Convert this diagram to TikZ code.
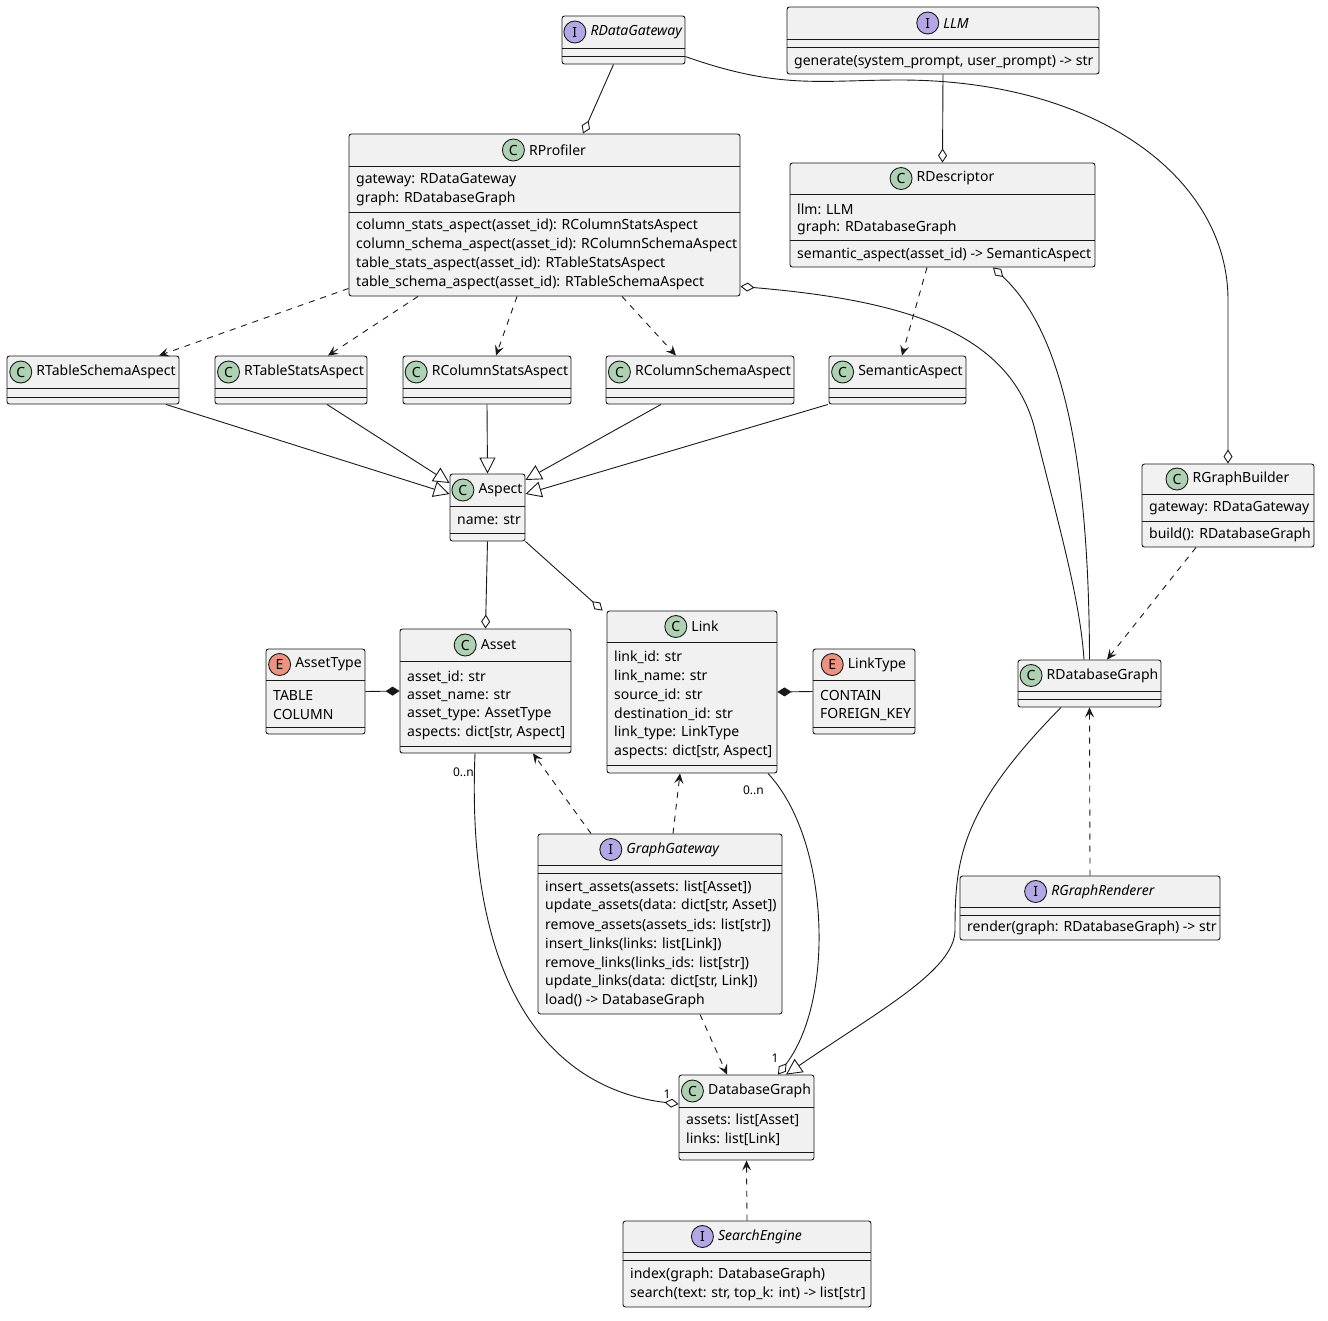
\documentclass[tikz,border=0pt]{standalone}
\usepackage{fontspec}
\setmainfont{Noto Sans}
\usetikzlibrary{arrows.meta,positioning}

\definecolor{boxfill}{HTML}{F1F1F1}
\definecolor{boxline}{HTML}{181818}
\definecolor{clsbadge}{HTML}{ADD1B2}
\definecolor{ifcbadge}{HTML}{B4A7E5}
\definecolor{enumbadge}{HTML}{EB937F}

% one class box: name, x1, y1, x2, y2, header bottom, letter, badge colour, title
\newcommand\umlclass[9]{%
  \pgfmathsetmacro\cw{#4-#2}\pgfmathsetmacro\ch{#5-#3}%
  \node[cls, minimum width=\cw pt, minimum height=\ch pt] (#1) at ({(#2+#4)/2},{(#3+#5)/2}) {};
  \draw[sepline] (#2,#6) -- (#4,#6);
  \node[title] (#1-t) at ({(#2+#4)/2+13},{(#3+#6)/2}) {#9};
  \node[badge, fill=#8, left=4pt of #1-t] {#7};
}
\newcommand\umlsep[3]{\draw[sepline] (#1,#3) -- (#2,#3);}
\newcommand\umlline[3]{\node[txt] at (#1+7,#2) {#3};}

\begin{document}
\begin{tikzpicture}[x=1pt, y=-1pt,
    cls/.style = {draw=boxline, fill=boxfill, rounded corners=2.5pt, inner sep=0pt, line width=0.9pt},
    sepline/.style = {draw=boxline, line width=0.8pt},
    title/.style = {inner sep=0pt, font=\fontsize{14}{16}\selectfont},
    txt/.style = {anchor=west, inner sep=0pt, font=\fontsize{14}{16}\selectfont},
    badge/.style = {circle, draw=boxline, line width=0.9pt, minimum size=22pt, inner sep=0pt, font=\fontsize{14}{16}\selectfont\bfseries},
    mult/.style = {inner sep=0pt, font=\fontsize{12}{14}\selectfont},
    link/.style = {draw=boxline, line width=0.9pt},
    dep/.style = {link, dashed, dash pattern=on 6pt off 6pt, -{Stealth[length=10pt,width=9pt,inset=4pt]}},
    aggr/.style = {link, -{Diamond[open,fill=white,length=14pt,width=9pt]}},
    aggrstart/.style = {link, {Diamond[open,fill=white,length=14pt,width=9pt]}-},
    comp/.style = {link, -{Diamond[length=14pt,width=9pt]}},
    inherit/.style = {link, -{Triangle[open,fill=white,length=16pt,width=16pt]}}
  ]
\useasboundingbox (0,0) rectangle (1328,1320);

% top row
\umlclass{RDataGateway}{562}{16}{685}{64}{48}{I}{ifcbadge}{\textit{RDataGateway}}
\umlsep{562}{685}{56}
\umlclass{LLM}{787}{7}{1099}{74}{39}{I}{ifcbadge}{\textit{LLM}}
\umlsep{787}{1099}{47}
\umlline{787}{62}{generate(system\_prompt, user\_prompt) -> str}

\umlclass{RProfiler}{349}{134}{740}{296}{166}{C}{clsbadge}{RProfiler}
\umlline{349}{180}{gateway: RDataGateway}
\umlline{349}{199}{graph: RDatabaseGraph}
\umlsep{349}{740}{212}
\umlline{349}{226}{column\_stats\_aspect(asset\_id): RColumnStatsAspect}
\umlline{349}{245}{column\_schema\_aspect(asset\_id): RColumnSchemaAspect}
\umlline{349}{264}{table\_stats\_aspect(asset\_id): RTableStatsAspect}
\umlline{349}{283}{table\_schema\_aspect(asset\_id): RTableSchemaAspect}

\umlclass{RDescriptor}{790}{163}{1095}{267}{194}{C}{clsbadge}{RDescriptor}
\umlline{790}{209}{llm: LLM}
\umlline{790}{228}{graph: RDatabaseGraph}
\umlsep{790}{1095}{240}
\umlline{790}{255}{semantic\_aspect(asset\_id) -> SemanticAspect}

% aspects
\umlclass{RTableSchemaAspect}{7}{356}{179}{404}{388}{C}{clsbadge}{RTableSchemaAspect}
\umlsep{7}{179}{397}
\umlclass{RTableStatsAspect}{215}{356}{367}{404}{388}{C}{clsbadge}{RTableStatsAspect}
\umlsep{215}{367}{397}
\umlclass{RColumnStatsAspect}{403}{356}{571}{404}{388}{C}{clsbadge}{RColumnStatsAspect}
\umlsep{403}{571}{397}
\umlclass{RColumnSchemaAspect}{606}{356}{794}{404}{388}{C}{clsbadge}{RColumnSchemaAspect}
\umlsep{606}{794}{397}
\umlclass{SemanticAspect}{829}{356}{966}{404}{388}{C}{clsbadge}{SemanticAspect}
\umlsep{829}{966}{397}

\umlclass{Aspect}{450}{474}{525}{541}{506}{C}{clsbadge}{Aspect}
\umlline{450}{520}{name: str}
\umlsep{450}{525}{533}

\umlclass{RGraphBuilder}{1142}{464}{1314}{547}{494}{C}{clsbadge}{RGraphBuilder}
\umlline{1142}{508}{gateway: RDataGateway}
\umlsep{1142}{1314}{521}
\umlline{1142}{535}{build(): RDatabaseGraph}

% model
\umlclass{AssetType}{266}{649}{365}{734}{680}{E}{enumbadge}{AssetType}
\umlline{266}{695}{TABLE}
\umlline{266}{714}{COLUMN}
\umlsep{266}{365}{727}

\umlclass{Asset}{400}{629}{571}{753}{661}{C}{clsbadge}{Asset}
\umlline{400}{677}{asset\_id: str}
\umlline{400}{696}{asset\_name: str}
\umlline{400}{714}{asset\_type: AssetType}
\umlline{400}{733}{aspects: dict[str, Aspect]}
\umlsep{400}{571}{746}

\umlclass{Link}{607}{611}{777}{773}{642}{C}{clsbadge}{Link}
\umlline{607}{657}{link\_id: str}
\umlline{607}{676}{link\_name: str}
\umlline{607}{695}{source\_id: str}
\umlline{607}{714}{destination\_id: str}
\umlline{607}{733}{link\_type: LinkType}
\umlline{607}{752}{aspects: dict[str, Aspect]}
\umlsep{607}{777}{765}

\umlclass{LinkType}{813}{649}{915}{734}{680}{E}{enumbadge}{LinkType}
\umlline{813}{695}{CONTAIN}
\umlline{813}{714}{FOREIGN\_KEY}
\umlsep{813}{915}{727}

\umlclass{RDatabaseGraph}{1018}{660}{1161}{707}{691}{C}{clsbadge}{RDatabaseGraph}
\umlsep{1018}{1161}{699}

\umlclass{GraphGateway}{538}{834}{782}{1014}{865}{I}{ifcbadge}{\textit{GraphGateway}}
\umlsep{538}{782}{873}
\umlline{538}{887}{insert\_assets(assets: list[Asset])}
\umlline{538}{906}{update\_assets(data: dict[str, Asset])}
\umlline{538}{925}{remove\_assets(assets\_ids: list[str])}
\umlline{538}{944}{insert\_links(links: list[Link])}
\umlline{538}{963}{remove\_links(links\_ids: list[str])}
\umlline{538}{982}{update\_links(data: dict[str, Link])}
\umlline{538}{1001}{load() -> DatabaseGraph}

\umlclass{RGraphRenderer}{960}{876}{1220}{940}{907}{I}{ifcbadge}{\textit{RGraphRenderer}}
\umlsep{960}{1220}{915}
\umlline{960}{928}{render(graph: RDatabaseGraph) -> str}

\umlclass{DatabaseGraph}{679}{1075}{814}{1160}{1107}{C}{clsbadge}{DatabaseGraph}
\umlline{679}{1120}{assets: list[Asset]}
\umlline{679}{1139}{links: list[Link]}
\umlsep{679}{814}{1152}

\umlclass{SearchEngine}{623}{1221}{871}{1307}{1252}{I}{ifcbadge}{\textit{SearchEngine}}
\umlsep{623}{871}{1260}
\umlline{623}{1275}{index(graph: DatabaseGraph)}
\umlline{623}{1294}{search(text: str, top\_k: int) -> list[str]}

% aggregations
\draw[aggr] ([xshift=-10pt]RDataGateway.south) -- ([xshift=38.5pt]RProfiler.north);
\draw[aggr] ([yshift=-41pt]RDataGateway.north east) .. controls (780,90) and (820,80) .. (900,80)
  .. controls (1100,80) and (1228,180) .. (1228,300) -- (RGraphBuilder.north);
\draw[aggr] (LLM.south) -- (RDescriptor.north);
\draw[aggrstart] ([yshift=10pt]RProfiler.south east) .. controls (900,300) and (1010,330) .. (1035,430)
  .. controls (1060,530) and (1080,600) .. ([xshift=-5.5pt]RDatabaseGraph.north);
\draw[aggrstart] ([xshift=50.5pt]RDescriptor.south) .. controls (1060,330) and (1089,450) .. (RDatabaseGraph.north);
\draw[aggr] (Aspect.south) -- (Asset.north);
\draw[aggr] (Aspect.south east) -- ([xshift=-4pt]Link.north west);
\draw[aggr] ([xshift=-10.5pt]Asset.south) .. controls (465,1000) and (560,1090) .. ([yshift=13.5pt]DatabaseGraph.west);
\draw[aggr] ([xshift=76pt]Link.south) .. controls (830,840) and (835,1000) .. ([xshift=31.5pt]DatabaseGraph.north);
\node[mult, anchor=east] at (474,772) {0..n};
\node[mult, anchor=east] at (764,790) {0..n};
\node[mult] at (667,1094) {1};
\node[mult] at (775,1058) {1};

% compositions
\draw[comp] (AssetType.east) -- (Asset.west);
\draw[comp] (LinkType.west) -- (Link.east);

% dependencies
\draw[dep] ([yshift=8pt]RProfiler.south west) -- ([xshift=66pt]RTableSchemaAspect.north);
\draw[dep] ([xshift=-126.5pt]RProfiler.south) -- ([xshift=37pt]RTableStatsAspect.north);
\draw[dep] ([xshift=-27.5pt]RProfiler.south) -- ([xshift=9pt]RColumnStatsAspect.north);
\draw[dep] ([xshift=77.5pt]RProfiler.south) -- ([xshift=-24pt]RColumnSchemaAspect.north);
\draw[dep] ([xshift=-15.5pt]RDescriptor.south) -- ([xshift=4.5pt]SemanticAspect.north);
\draw[dep] ([xshift=-32pt]RGraphBuilder.south) -- ([xshift=17.5pt]RDatabaseGraph.north);
\draw[dep] (RGraphRenderer.north) -- (RDatabaseGraph.south);
\draw[dep] ([xshift=-69pt]GraphGateway.north) -- ([xshift=47.5pt]Asset.south);
\draw[dep] ([xshift=13pt]GraphGateway.north) -- ([xshift=-12pt]Link.south);
\draw[dep] ([xshift=40pt]GraphGateway.south) -- ([xshift=-19.5pt]DatabaseGraph.north);
\draw[dep] (SearchEngine.north) -- (DatabaseGraph.south);

% inheritance
\draw[inherit] ([xshift=73pt]RTableSchemaAspect.south) -- ([yshift=13.5pt]Aspect.west);
\draw[inherit] ([xshift=36pt]RTableStatsAspect.south) -- ([yshift=24.5pt]Aspect.west);
\draw[inherit] (RColumnStatsAspect.south) -- (Aspect.north);
\draw[inherit] ([xshift=-39pt]RColumnSchemaAspect.south) -- ([yshift=27.5pt]Aspect.east);
\draw[inherit] ([xshift=-69.5pt]SemanticAspect.south) -- ([yshift=13.5pt]Aspect.east);
\draw[inherit] ([xshift=-28.5pt]RDatabaseGraph.south) .. controls (960,810) and (955,860) .. (955,930)
  .. controls (955,970) and (880,1010) .. ([xshift=39.5pt]DatabaseGraph.north);
\end{tikzpicture}
\end{document}
